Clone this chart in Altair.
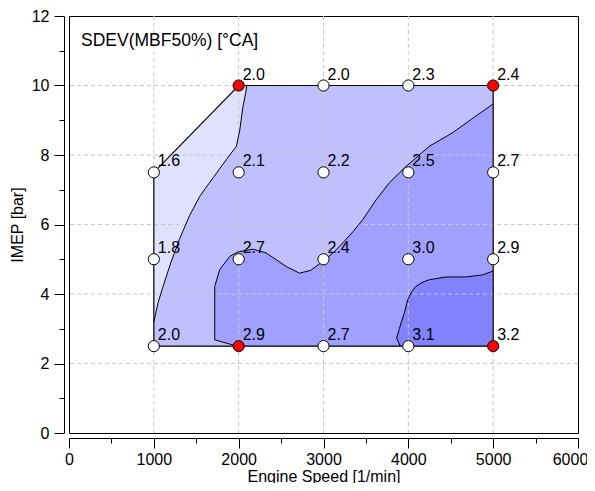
import altair as alt
import pandas as pd

FONT = "Liberation Sans"

# ---- measured operating points ----
pt_rpm = [1000, 2000, 3000, 4000, 5000,
          1000, 2000, 3000, 4000, 5000,
          1000, 2000, 3000, 4000, 5000,
          2000, 3000, 4000, 5000]
pt_imep = [2.5, 2.5, 2.5, 2.5, 2.5,
           5, 5, 5, 5, 5,
           7.5, 7.5, 7.5, 7.5, 7.5,
           10, 10, 10, 10]
pt_sdev = [2.0, 2.9, 2.7, 3.1, 3.2,
           1.8, 2.7, 2.4, 3.0, 2.9,
           1.6, 2.1, 2.2, 2.5, 2.7,
           2.0, 2.0, 2.3, 2.4]
pt_red = [False, True, False, False, True,
          False, False, False, False, False,
          False, False, False, False, False,
          True, False, False, True]

# ---- outer hull of the map ----
hull_rpm = [1000, 1000, 2000, 5000, 5000, 1000]
hull_imep = [2.5, 7.5, 10, 10, 2.5, 2.5]
hull_area_rpm = [1000, 2000, 5000]
hull_area_lo = [2.5, 2.5, 2.5]
hull_area_hi = [7.5, 10, 10]

# ---- contour band >= 2.0 ----
b20_rpm = [1000, 1050, 1109, 1200, 1306, 1420, 1541, 1700, 1855, 1973, 2012, 2051, 2083, 2095, 5000]
b20_lo = [2.5] * 15
b20_hi = [3.2, 3.75, 4.22, 4.9, 5.6, 6.25, 6.81, 7.35, 7.87, 8.25, 8.7, 9.4, 9.79, 10.0, 10.0]

# ---- contour band >= 2.5 ----
b25_rpm = [1718, 1776, 1894, 1990, 2012, 2169, 2325, 2561, 2718, 2850, 2992, 3120, 3227,
           3350, 3463, 3620, 3776, 3973, 4247, 4521, 4796, 5000]
b25_lo = [2.68, 2.64, 2.56, 2.5, 2.5, 2.5, 2.5, 2.5, 2.5, 2.5, 2.5, 2.5, 2.5,
          2.5, 2.5, 2.5, 2.5, 2.5, 2.5, 2.5, 2.5, 2.5]
b25_hi = [4.22, 4.70, 5.08, 5.21, 5.22, 5.29, 5.18, 4.79, 4.60, 4.68, 4.94, 5.2, 5.47,
          5.8, 6.14, 6.71, 7.20, 7.67, 8.25, 8.64, 9.12, 9.47]

# ---- contour band >= 3.0 ----
b30_rpm = [3862, 3894, 3925, 3953, 3992, 4040, 4090, 4160, 4247, 4443, 4678, 4874, 5000]
b30_lo = [2.73, 2.52, 2.5, 2.5, 2.5, 2.5, 2.5, 2.5, 2.5, 2.5, 2.5, 2.5, 2.5]
b30_hi = [2.73, 3.0, 3.25, 3.45, 3.83, 4.07, 4.22, 4.33, 4.41, 4.49, 4.49, 4.55, 4.66]

band_colors = ["#e0e0ff", "#c0c0ff", "#a0a0ff", "#8282ff"]

grid_x = [1000, 2000, 3000, 4000, 5000]
grid_y = [2, 4, 6, 8, 10]

x_ticks = list(range(0, 6001, 500))
y_ticks = list(range(0, 13, 1))

# ---- shared encodings ----
xscale = alt.Scale(domain=[0, 6000], nice=False, zero=False)
yscale = alt.Scale(domain=[0, 12], nice=False, zero=False)

xaxis = alt.Axis(
    values=x_ticks, format="d",
    labelExpr="datum.value % 1000 === 0 ? datum.label : ''",
    tickSize={"condition": {"test": "datum.value % 1000 === 0", "value": 10}, "value": 5},
    labelOffset={"condition": {"test": "datum.value === 6000", "value": -8}, "value": 0},
    offset=5, grid=False, labelFlush=False, labelOverlap=False,
    labelPadding=3, titleBaseline="alphabetic", titleY=43,
)
yaxis = alt.Axis(
    values=y_ticks, format="d",
    labelExpr="datum.value % 2 === 0 ? datum.label : ''",
    tickSize={"condition": {"test": "datum.value % 2 === 0", "value": 10}, "value": 5},
    offset=5, grid=False, labelOverlap=False,
    labelPadding=5, titlePadding=6,
)


def X(field):
    return alt.X(f"{field}:Q", scale=xscale, axis=xaxis, title="Engine Speed [1/min]")


def Y(field):
    return alt.Y(f"{field}:Q", scale=yscale, axis=yaxis, title="IMEP [bar]")


def band_df(r, lo, hi):
    return pd.DataFrame({"rpm": r, "lo": lo, "hi": hi})


layers = []
for (r, lo, hi), col in zip(
    [(hull_area_rpm, hull_area_lo, hull_area_hi),
     (b20_rpm, b20_lo, b20_hi),
     (b25_rpm, b25_lo, b25_hi),
     (b30_rpm, b30_lo, b30_hi)],
    band_colors,
):
    layers.append(
        alt.Chart(band_df(r, lo, hi)).mark_area(color=col, opacity=1, interpolate="linear").encode(
            x=X("rpm"), y=Y("lo"), y2="hi:Q"
        )
    )

# grid lines
gx = alt.Chart(pd.DataFrame({"gx": grid_x})).mark_rule(
    color="#c8c8c8", strokeDash=[4, 3], strokeWidth=1
).encode(x=X("gx"))
gy = alt.Chart(pd.DataFrame({"gy": grid_y})).mark_rule(
    color="#c8c8c8", strokeDash=[4, 3], strokeWidth=1
).encode(y=Y("gy"))
layers += [gx, gy]

# contour lines
rows = []
seq = 0
for x_, y_ in zip(b20_rpm[:-1], b20_hi[:-1]):
    rows.append({"rpm": x_, "imep": y_, "line": "a", "seq": seq}); seq += 1
pre = [(1990, 2.5), (1894, 2.56), (1776, 2.64)]
for x_, y_ in pre:
    rows.append({"rpm": x_, "imep": y_, "line": "b", "seq": seq}); seq += 1
rows.append({"rpm": b25_rpm[0], "imep": b25_lo[0], "line": "b", "seq": seq}); seq += 1
for x_, y_ in zip(b25_rpm, b25_hi):
    rows.append({"rpm": x_, "imep": y_, "line": "b", "seq": seq}); seq += 1
rows.append({"rpm": 3905, "imep": 2.5, "line": "c", "seq": seq}); seq += 1
for x_, y_ in zip(b30_rpm, b30_hi):
    rows.append({"rpm": x_, "imep": y_, "line": "c", "seq": seq}); seq += 1
contours = alt.Chart(pd.DataFrame(rows)).mark_line(
    color="black", strokeWidth=1, interpolate="linear"
).encode(x=X("rpm"), y=Y("imep"), detail="line:N", order="seq:Q")
layers.append(contours)

hull = alt.Chart(pd.DataFrame({"rpm": hull_rpm, "imep": hull_imep, "k": list(range(len(hull_rpm)))})).mark_line(
    color="black", strokeWidth=1.2
).encode(x=X("rpm"), y=Y("imep"), order="k:Q")
layers.append(hull)

pts = pd.DataFrame({
    "rpm": pt_rpm, "imep": pt_imep, "sdev": pt_sdev,
    "fillc": ["#ff0000" if r else "#ffffff" for r in pt_red],
})
points = alt.Chart(pts).mark_point(
    shape="circle", filled=True, size=125, stroke="black", strokeWidth=1, opacity=1
).encode(x=X("rpm"), y=Y("imep"), fill=alt.Fill("fillc:N", scale=None))
labels = alt.Chart(pts).mark_text(
    align="left", baseline="alphabetic", dx=4, dy=-6, font=FONT, fontSize=16, color="black"
).encode(x=X("rpm"), y=Y("imep"), text=alt.Text("sdev:Q", format=".1f"))
layers += [points, labels]

title = alt.Chart(pd.DataFrame({"t": ["SDEV(MBF50%) [°CA]"]})).mark_text(
    align="left", baseline="alphabetic", font=FONT, fontSize=17.5, color="black"
).encode(x=alt.value(12), y=alt.value(30), text="t:N")
layers.append(title)

chart = alt.layer(*layers).properties(
    width=509, height=417,
    background="white",
    autosize=alt.AutoSizeParams(type="none"),
    padding={"left": 61, "top": 8, "right": 9, "bottom": 50},
).configure_view(
    stroke="black", strokeWidth=1
).configure_axis(
    domainColor="black", domainWidth=1, tickColor="black", tickWidth=1,
    labelFont=FONT, labelFontSize=16, labelColor="black",
    titleFont=FONT, titleFontSize=16, titleFontWeight="normal", titleColor="black",
)

chart.save("out.html", embed_options={"renderer": "svg", "actions": False})
